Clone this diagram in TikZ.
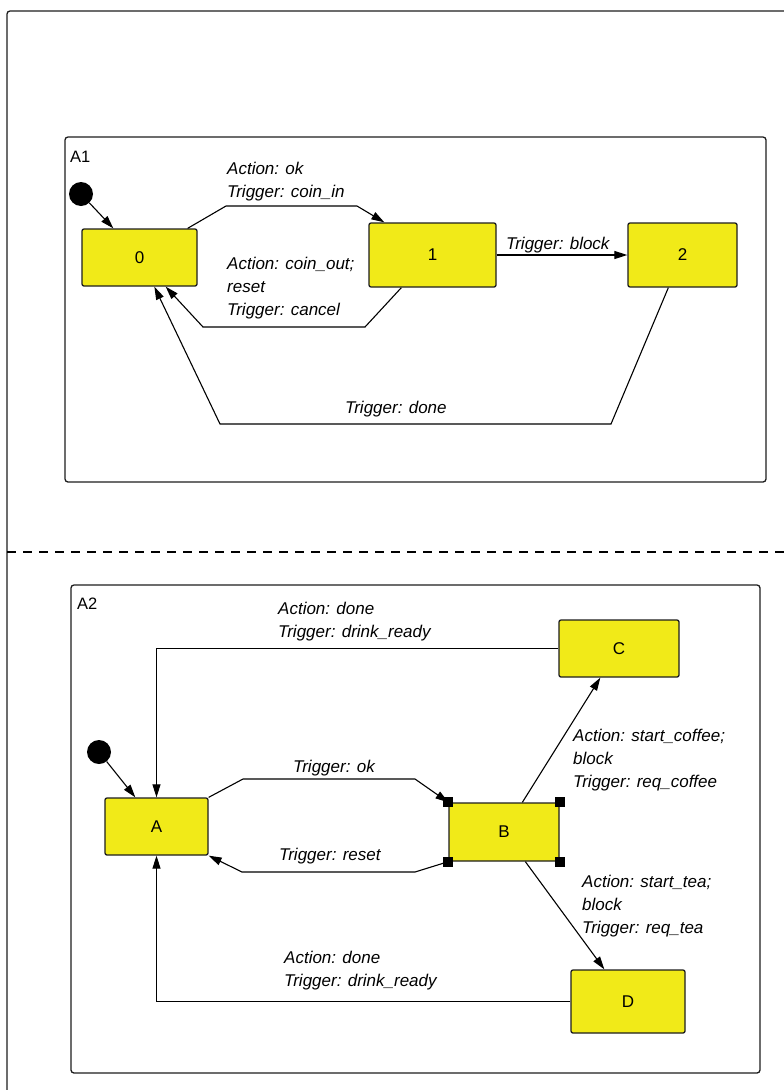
\documentclass[tikz,border=0pt]{standalone}
\usepackage{fontspec}
\setmainfont{Liberation Sans}
\usetikzlibrary{arrows.meta}
\definecolor{stfill}{RGB}{241,234,24}
\definecolor{brd}{RGB}{30,30,30}
\tikzset{
  state/.style={draw=brd, line width=1.3pt, fill=stfill, rounded corners=2pt, inner sep=0pt,
    font=\fontsize{17}{20}\selectfont},
  region/.style={draw=brd, line width=1.3pt, rounded corners=3pt},
  initdot/.style={circle, fill=black, minimum size=24pt, inner sep=0pt},
  tr/.style={draw=black, line width=1.1pt, -{Triangle[length=13pt,width=8pt]}},
  lbl/.style={anchor=north west, inner sep=0pt, align=left,
    font=\fontsize{17}{23}\selectfont\itshape},
  rlbl/.style={anchor=base west, inner sep=0pt, font=\fontsize{16.5}{20}\selectfont},
  handle/.style={fill=black, minimum size=10pt, inner sep=0pt}
}
\begin{document}
\begin{tikzpicture}[x=1pt,y=-1pt]
\clip (0,0) rectangle (784,1090);
\fill[white] (0,0) rectangle (784,1090);
% outer frame and separator
\draw[region] (7,11) rectangle (820,1120);
\draw[line width=1.1pt, dash pattern=on 9pt off 7pt] (7,552) -- (784,552);
% regions
\draw[region] (65,137) rectangle (766,482);
\node[rlbl] (labA1) at (70,162) {A1};
\draw[region] (71,585) rectangle (760,1073);
\node[rlbl] (labA2) at (77,609) {A2};

% ---- A1 states
\node[initdot] (i1) at (81,194) {};
\node[state, minimum width=115pt, minimum height=57pt] (s0) at (139.5,257.5) {0};
\node[state, minimum width=127pt, minimum height=64pt] (s1) at (432.5,255) {1};
\node[state, minimum width=109pt, minimum height=64pt] (s2) at (682.5,255) {2};

\coordinate (b01a) at (226,206);
\coordinate (b01b) at (357,206);
\coordinate (b10a) at (365,327);
\coordinate (b10b) at (203,327);
\coordinate (b20a) at (611,424);
\coordinate (b20b) at (220,424);

\draw[tr] (i1) -- ([xshift=32pt]s0.north west);
\draw[tr] ([xshift=-10pt]s0.north east) -- (b01a) -- (b01b) -- ([xshift=16pt]s1.north west);
\draw[tr] ([xshift=33pt]s1.south west) -- (b10a) -- (b10b) -- ([xshift=-32pt]s0.south east);
\draw[tr] (s1.east) -- (s2.west);
\draw[tr] ([xshift=41pt]s2.south west) -- (b20a) -- (b20b) -- ([xshift=73pt]s0.south west);

\node[lbl] (t01) at (227,162) {Action: ok\\Trigger: coin\_in};
\node[lbl] (t10) at (227,257) {Action: coin\_out;\\reset\\Trigger: cancel};
\node[lbl] (t12) at (506,237) {Trigger: block};
\node[lbl] (t20) at (345,401) {Trigger: done};

% ---- A2 states
\node[initdot] (i2) at (99,752) {};
\node[state, minimum width=103pt, minimum height=57pt] (sA) at (156.5,826.5) {A};
\node[state, minimum width=110pt, minimum height=58pt] (sB) at (504,832) {B};
\node[state, minimum width=120pt, minimum height=57pt] (sC) at (619,648.5) {C};
\node[state, minimum width=114pt, minimum height=63pt] (sD) at (628,1001.5) {D};

\coordinate (bABa) at (243,779);
\coordinate (bABb) at (415,779);
\coordinate (bBAa) at (415,872);
\coordinate (bBAb) at (242,872);

\draw[tr] (i2) -- ([xshift=31pt]sA.north west);
\draw[tr] (sA.north east) -- (bABa) -- (bABb) -- (sB.north west);
\draw[tr] (sB.south west) -- (bBAa) -- (bBAb) -- (sA.south east);
\draw[tr] ([xshift=74pt]sB.north west) -- ([xshift=42pt]sC.south west);
\draw[tr] ([xshift=77pt]sB.south west) -- ([xshift=34pt]sD.north west);
\draw[tr] (sC.west) -| (sA.north);
\draw[tr] (sD.west) -| (sA.south);

% selection handles on B
\node[handle] (hnw) at (sB.north west) {};
\node[handle] (hne) at (sB.north east) {};
\node[handle] (hsw) at (sB.south west) {};
\node[handle] (hse) at (sB.south east) {};

\node[lbl] (tCA) at (278,602) {Action: done\\Trigger: drink\_ready};
\node[lbl] (tAB) at (293,760) {Trigger: ok};
\node[lbl] (tBA) at (279,848) {Trigger: reset};
\node[lbl] (tBC) at (573,729) {Action: start\_coffee;\\block\\Trigger: req\_coffee};
\node[lbl] (tBD) at (582,875) {Action: start\_tea;\\block\\Trigger: req\_tea};
\node[lbl] (tDA) at (284,951) {Action: done\\Trigger: drink\_ready};
\end{tikzpicture}
\end{document}
